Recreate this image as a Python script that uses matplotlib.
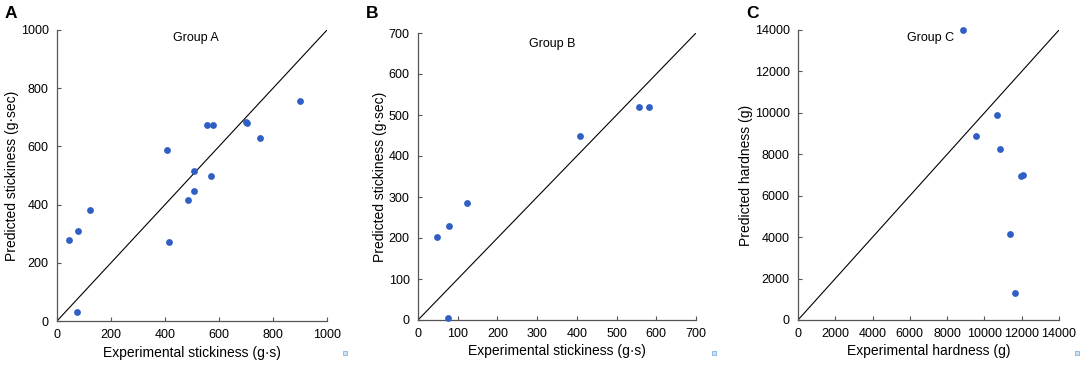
import numpy as np
import matplotlib
matplotlib.use("Agg")
import matplotlib.pyplot as plt
from matplotlib.patches import Rectangle

plt.rcParams['font.family'] = ['Liberation Sans', 'DejaVu Sans']

# Grupo A: pegajosidad experimental vs predicha
a_exp = [46, 79, 123, 73, 407, 416, 484, 506, 509, 570, 556, 578, 700, 704, 751, 901]
a_pred = [280, 310, 383, 31, 588, 270, 417, 448, 516, 499, 674, 674, 685, 679, 630, 757]

# Grupo B
b_exp = [49, 79, 124, 75, 408, 557, 581]
b_pred = [203, 229, 286, 6, 450, 519, 519]

# Grupo C: dureza
c_exp = [8851, 9548, 10674, 10818, 11944, 12051, 11389, 11658]
c_pred = [14000, 8899, 9880, 8255, 6968, 7016, 4136, 1287]

paneles = [
    ("A", "Group A", a_exp, a_pred, 1000, 200,
     "Experimental stickiness (g\u00b7s)", "Predicted stickiness (g\u00b7sec)", (57, 30, 327, 321), (0.514, 0.974)),
    ("B", "Group B", b_exp, b_pred, 700, 100,
     "Experimental stickiness (g\u00b7s)", "Predicted stickiness (g\u00b7sec)", (418, 33, 696, 320), (0.484, 0.962)),
    ("C", "Group C", c_exp, c_pred, 14000, 2000,
     "Experimental hardness (g)", "Predicted hardness (g)", (798, 30, 1059, 320), (0.507, 0.974)),
]

W, H = 1084, 366
fig = plt.figure(figsize=(W / 100, H / 100), dpi=100)

for letra, grupo, xs, ys, vmax, paso, xlab, ylab, (l, t, r, b), (gx, gy) in paneles:
    ax = fig.add_axes([l / W, 1 - b / H, (r - l) / W, (b - t) / H])
    ax.plot([0, vmax], [0, vmax], color="black", lw=0.8)
    ax.scatter(xs, ys, s=24, color="#2F5EC4", zorder=3, linewidths=0, clip_on=False)
    ax.set_xlim(0, vmax)
    ax.set_ylim(0, vmax)
    ticks = np.arange(0, vmax + 1, paso)
    ax.set_xticks(ticks)
    ax.set_yticks(ticks)
    ax.tick_params(direction="in", length=3, width=0.8, color="#555555", labelsize=9, pad=6)
    for s in ["top", "right"]:
        ax.spines[s].set_visible(False)
    for s in ["left", "bottom"]:
        ax.spines[s].set_color("#555555")
        ax.spines[s].set_linewidth(0.9)
    ax.set_xlabel(xlab, fontsize=10, labelpad=3)
    ax.set_ylabel(ylab, fontsize=10, labelpad=1)
    ax.text(gx, gy, grupo, transform=ax.transAxes, ha="center", va="center", fontsize=9)
    fig.text((l - 52) / W, 1 - 14 / H, letra, fontsize=12.5, fontweight="bold", ha="left", va="center")
    # pequeño icono en la esquina inferior derecha
    fig.add_artist(Rectangle(((r + 16) / W, 1 - 355 / H), 4 / W, 4 / H,
                             transform=fig.transFigure, facecolor="#cfe3f5", edgecolor="#7fb2e0", lw=0.6))

plt.savefig("out.png", dpi=100)
